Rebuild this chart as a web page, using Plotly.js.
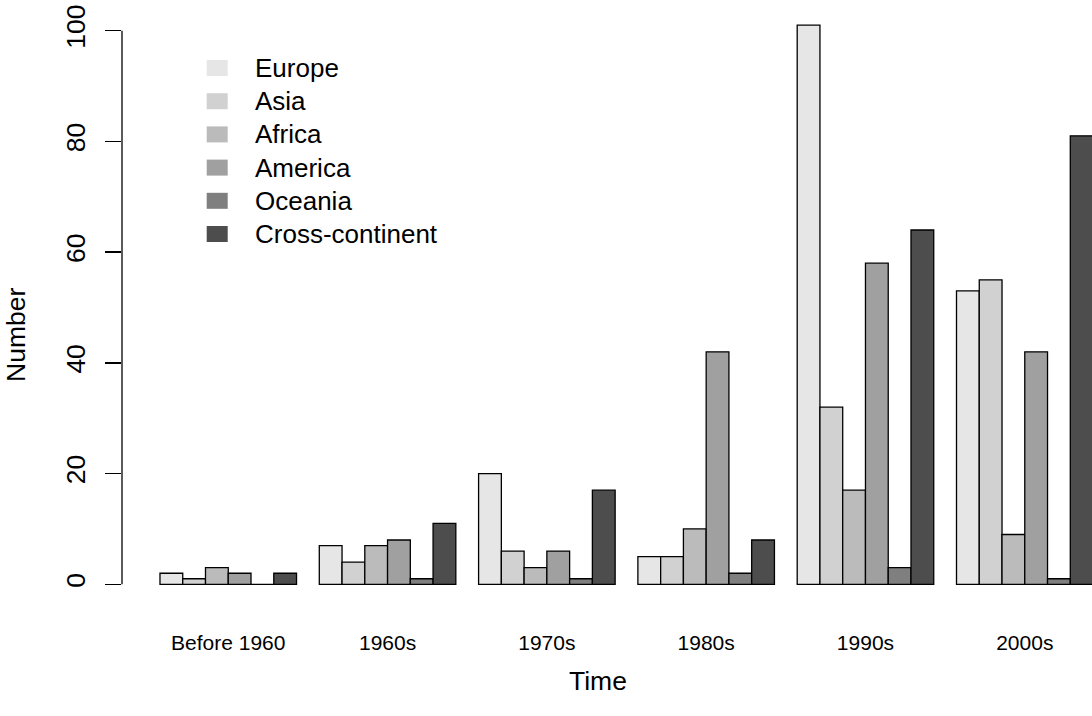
<!DOCTYPE html>
<html>
<head>
<meta charset="utf-8">
<script src="https://cdn.plot.ly/plotly-3.0.1.min.js"></script>
<style>
  html, body { margin: 0; padding: 0; background: #ffffff; overflow: hidden; }
  #chart { width: 1092px; height: 716px; }
</style>
</head>
<body>
<div id="chart"></div>
<script>
// ---- Data ----
var categories = ["Before 1960", "1960s", "1970s", "1980s", "1990s", "2000s"];
var seriesNames = ["Europe", "Asia", "Africa", "America", "Oceania", "Cross-continent"];
var europe   = [2, 7, 20, 5, 101, 53];
var asia     = [1, 4, 6, 5, 32, 55];
var africa   = [3, 7, 3, 10, 17, 9];
var america  = [2, 8, 6, 42, 58, 42];
var oceania  = [0, 1, 1, 2, 3, 1];
var crossCont = [2, 11, 17, 8, 64, 81];
var yTickVals = [0, 20, 40, 60, 80, 100];

// ---- Styles ----
var colors = ["#E6E6E6", "#D1D1D1", "#BBBBBB", "#A0A0A0", "#7F7F7F", "#4D4D4D"];
var seriesValues = [europe, asia, africa, america, oceania, crossCont];
var FONT = "Liberation Sans, Arial, Helvetica, sans-serif";

var traces = seriesValues.map(function (vals, i) {
  return {
    type: "bar",
    name: seriesNames[i],
    x: categories,
    y: vals,
    marker: { color: colors[i], line: { color: "#000000", width: 1.3 } },
    showlegend: false,
    hoverinfo: "x+y+name"
  };
});

// Layout geometry (pixels)
var W = 1092, H = 716;
var mL = 122, mR = 0, mT = 3, mB = 109;
var plotW = W - mL - mR, plotH = H - mT - mB;
function px2paperX(px) { return (px - mL) / plotW; }
function px2paperY(py) { return (H - mB - py) / plotH; }

// Legend (manual, R-style filled boxes without border)
var shapes = [];
var annotations = [];
var legBoxX = 206.7, legBoxW = 21, legBoxTop = 60, legBoxH = 16, legStep = 33.2, legTextX = 253;
seriesNames.forEach(function (name, i) {
  var top = legBoxTop + i * legStep;
  shapes.push({
    type: "rect", xref: "paper", yref: "paper",
    x0: px2paperX(legBoxX), x1: px2paperX(legBoxX + legBoxW),
    y0: px2paperY(top + legBoxH), y1: px2paperY(top),
    fillcolor: colors[i], line: { width: 0 }, layer: "above"
  });
  annotations.push({
    xref: "paper", yref: "paper",
    x: px2paperX(legTextX), y: px2paperY(top + legBoxH / 2),
    xanchor: "left", yanchor: "middle",
    text: name, showarrow: false,
    font: { family: FONT, size: 26, color: "#000000" }
  });
});

// y-axis line spanning only the tick range (R style)
shapes.push({
  type: "line", xref: "paper", yref: "y",
  x0: 0, x1: 0, y0: yTickVals[0], y1: yTickVals[yTickVals.length - 1],
  line: { color: "#000000", width: 1.3 }
});

// Axis titles
annotations.push({
  xref: "paper", yref: "paper",
  x: px2paperX(598), y: px2paperY(681),
  xanchor: "center", yanchor: "middle",
  text: "Time", showarrow: false,
  font: { family: FONT, size: 26.5, color: "#000000" }
});
annotations.push({
  xref: "paper", yref: "paper",
  x: px2paperX(16), y: px2paperY(335),
  xanchor: "center", yanchor: "middle", textangle: -90,
  text: "Number", showarrow: false,
  font: { family: FONT, size: 26.5, color: "#000000" }
});

var layout = {
  width: W, height: H,
  margin: { l: mL, r: mR, t: mT, b: mB, pad: 0 },
  paper_bgcolor: "#ffffff",
  plot_bgcolor: "#ffffff",
  barmode: "group",
  bargap: 1 / 7,
  bargroupgap: 0,
  showlegend: false,
  font: { family: FONT, color: "#000000" },
  xaxis: {
    type: "category",
    range: [-0.667, 5.422],
    showgrid: false, zeroline: false, showline: false,
    ticks: "",
    tickfont: { family: FONT, size: 21, color: "#000000" },
    ticklabelstandoff: 21
  },
  yaxis: {
    range: [-4.10, 105.0],
    tickvals: yTickVals,
    ticktext: yTickVals.map(String),
    showgrid: false, zeroline: false, showline: false,
    ticks: "outside", ticklen: 16, tickwidth: 1.3, tickcolor: "#000000",
    tickangle: -90,
    ticklabelstandoff: 9,
    tickfont: { family: FONT, size: 26.5, color: "#000000" }
  },
  shapes: shapes,
  annotations: annotations
};

Plotly.newPlot("chart", traces, layout, { displayModeBar: false, staticPlot: true });
</script>
</body>
</html>
